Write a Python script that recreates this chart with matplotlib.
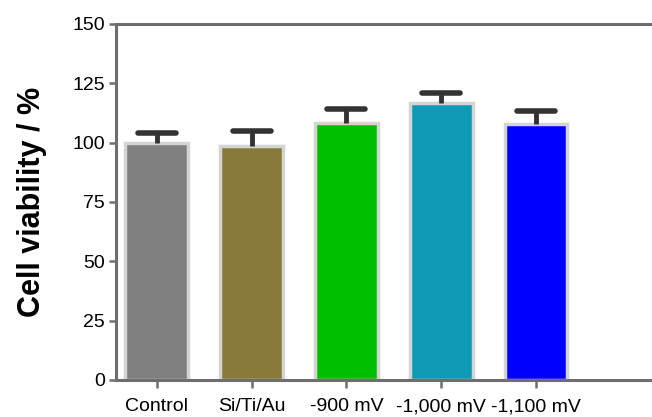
import matplotlib.pyplot as plt
import numpy as np

categories = ["Control", "Si/Ti/Au", "-900 mV", "-1,000 mV", "-1,100 mV"]
viability = [100.0, 98.6, 108.2, 116.9, 107.7]
error = [4.0, 6.3, 6.1, 3.9, 5.8]
colors = ["#808080", "#8a7a3a", "#00be00", "#0e9ab4", "#0000ff"]
yticks = [0, 25, 50, 75, 100, 125, 150]

plt.rcParams["font.family"] = ["Liberation Sans", "DejaVu Sans"]

fig = plt.figure(figsize=(6.52, 4.17), dpi=100)
ax = fig.add_axes([116 / 652, 37 / 417, 549 / 652, 356 / 417])

x = np.arange(len(categories))
vals = np.array(viability)
err = np.array(error)
ax.bar(x, vals, width=0.66, color=colors, edgecolor="#d4d4d4",
       linewidth=2.5, zorder=2)
# upper error bars only
ax.vlines(x, vals, vals + err, color="#333333", linewidth=3.5, zorder=3)
ax.hlines(vals + err, x - 0.2, x + 0.2, color="#333333", linewidth=4,
          capstyle="round", zorder=3)

ax.set_xlim(-0.43, 5.36)
ax.set_ylim(0, 150)
ax.set_xticks(x)
ax.set_xticklabels(categories, fontsize=14)
ax.set_yticks(yticks)
ax.set_yticklabels([str(t) for t in yticks], fontsize=14)
ax.set_ylabel("Cell viability / %", fontsize=22, fontweight="bold", labelpad=18)

for side in ["left", "bottom", "top"]:
    ax.spines[side].set_color("#6e6e6e")
    ax.spines[side].set_linewidth(2.2)
ax.spines["right"].set_visible(False)
ax.tick_params(axis="both", colors="#6e6e6e", width=1.8, length=5,
               labelcolor="black", pad=3)
ax.tick_params(axis="x", length=6, pad=7)

fig.savefig("out.png", dpi=100)
